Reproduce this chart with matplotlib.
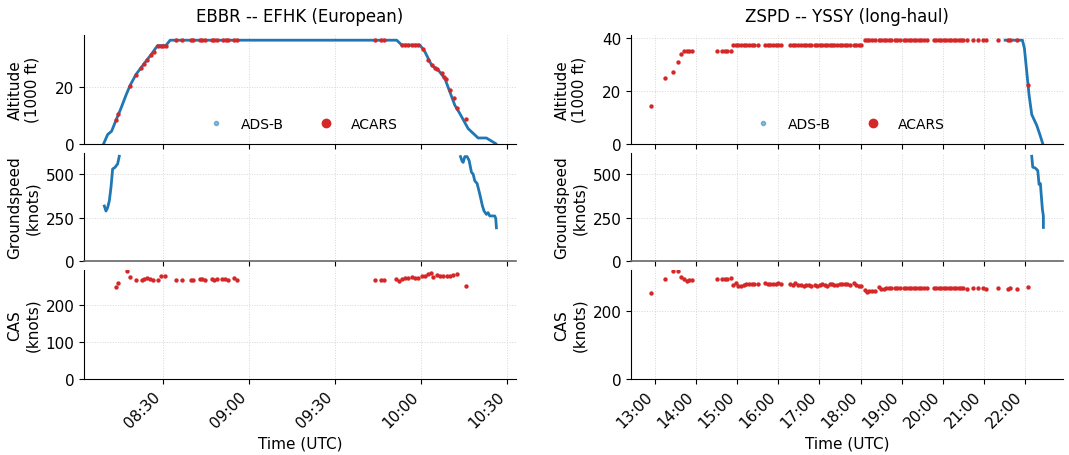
import numpy as np
import pandas as pd
import matplotlib
matplotlib.use("Agg")
import matplotlib.pyplot as plt
import matplotlib.dates as mdates
from matplotlib.lines import Line2D

# ---------------- Flight 1: EBBR -- EFHK (minutes after 08:00 UTC) ----------------
L_title = "EBBR -- EFHK (European)"
L_adsb_alt_t = [9.24, 10.63, 12.02, 13.53, 15.27, 17.01, 18.52, 20.49, 23.39, 25.71, 28.03, 30.93,
                32.44, 111.54, 113.28, 119.65, 121.39, 123.71, 126.03, 128.35, 130.09, 131.83,
                133.57, 136.47, 139.95, 142.85, 146.10]
L_adsb_alt = [0.0, 3.2, 4.4, 8.2, 12.4, 17.0, 20.6, 24.3, 28.2, 31.2, 34.5, 34.5,
              36.4, 36.4, 34.7, 34.7, 32.3, 27.6, 25.9, 22.9, 18.2, 13.5,
              10.6, 5.3, 2.0, 2.0, 0.0]
L_adsb_gs_t1 = [9.47, 10.05, 10.63, 11.21, 11.79, 12.37, 13.18, 14.11, 14.69]
L_adsb_gs1 = [317, 288, 308, 346, 423, 529, 538, 558, 602]
L_adsb_gs_t2 = [133.80, 134.38, 134.73, 135.31, 136.12, 136.82, 137.63, 138.21, 138.79, 139.60,
                140.53, 141.46, 142.04, 142.85, 143.43, 144.01, 144.94, 145.75, 146.10, 146.34]
L_adsb_gs2 = [600, 573, 567, 600, 600, 577, 510, 500, 461, 446,
              385, 317, 288, 269, 279, 260, 260, 260, 246, 192]
L_acars_alt_t = [13.53, 14.34, 18.52, 20.49, 22.23, 23.39, 24.32, 25.71, 26.64, 28.26, 29.19, 30.12, 30.93,
                 34.64, 36.50, 39.63, 40.55, 42.87, 43.69, 44.61, 46.93, 47.75, 48.67, 50.99, 51.80,
                 52.73, 54.70, 55.63,
                 104.00, 106.09, 107.13,
                 113.28, 114.44, 115.60, 116.76, 117.92, 119.07,
                 120.81, 122.55, 123.71, 124.87, 125.69, 127.19, 128.00, 128.70, 130.09, 131.48,
                 132.64, 135.66]
L_acars_alt = [8.2, 10.6, 20.3, 24.1, 26.7, 28.2, 29.4, 31.2, 32.1, 34.5, 34.5, 34.5, 34.5,
               36.4, 36.4, 36.4, 36.4, 36.4, 36.4, 36.4, 36.4, 36.4, 36.4, 36.4, 36.4,
               36.4, 36.4, 36.4,
               36.4, 36.4, 36.4,
               34.7, 34.7, 34.7, 34.7, 34.7, 34.7,
               33.3, 29.4, 27.6, 26.5, 26.1, 24.7, 23.5, 22.9, 18.8, 15.9,
               12.4, 8.6]
L_acars_cas_t = [13.53, 14.34, 17.36, 18.52, 20.49, 22.46, 23.39, 24.32, 25.36, 26.52, 28.38, 29.42,
                 30.58, 34.64, 36.50, 39.63, 40.55, 42.76, 43.69, 44.61, 46.93, 47.75, 48.67, 50.64,
                 51.57, 52.73, 54.70, 55.86,
                 104.00, 106.09, 107.13, 111.19, 112.35, 113.28, 114.44, 115.60, 116.76, 117.92,
                 119.07, 120.23, 121.39, 122.55, 123.36, 124.29, 125.45, 126.61, 127.77, 128.93,
                 130.09, 131.25, 132.41, 135.66]
L_acars_cas = [248, 259, 291, 275, 268, 268, 270, 272, 269, 268, 268, 278,
               277, 268, 268, 268, 268, 270, 270, 266, 270, 267, 271, 270,
               269, 268, 273, 266,
               268, 267, 266, 271, 265, 270, 272, 273, 274, 273,
               272, 278, 279, 283, 286, 275, 280, 279, 279, 279,
               279, 281, 284, 251]

# ---------------- Flight 2: ZSPD -- YSSY (hours UTC) ----------------
R_title = "ZSPD -- YSSY (long-haul)"
R_adsb_alt_t = [21.514, 21.935, 21.983, 22.040, 22.097, 22.161, 22.283, 22.364, 22.428]
R_adsb_alt = [39.1, 39.1, 36.0, 27.1, 18.3, 11.0, 6.9, 3.2, 0.0]
R_adsb_gs_t = [22.161, 22.186, 22.242, 22.307, 22.339, 22.372, 22.388, 22.420, 22.444, 22.444]
R_adsb_gs = [605, 542, 538, 523, 443, 447, 395, 300, 261, 195]
R_acars_t = [12.895, 13.235, 13.437, 13.558, 13.631, 13.704, 13.769, 13.826, 13.906,
             14.505, 14.635, 14.700, 14.764, 14.861,
             14.902, 14.959, 15.023, 15.088, 15.161, 15.226, 15.290, 15.355, 15.420, 15.509,
             15.687, 15.744, 15.808, 15.873, 15.938, 15.994, 16.059,
             16.294, 16.351, 16.415, 16.480, 16.545, 16.618, 16.682, 16.747, 16.804,
             16.901, 16.950, 17.006, 17.063, 17.128, 17.184, 17.249, 17.306, 17.362, 17.427,
             17.492, 17.548, 17.613, 17.678, 17.734,
             17.832, 17.888, 17.953, 18.010,
             18.099, 18.155, 18.212, 18.277, 18.341,
             18.439, 18.503, 18.560, 18.625, 18.681, 18.746,
             18.827, 18.892, 18.948,
             19.046, 19.110, 19.167, 19.232, 19.288, 19.353, 19.410, 19.475, 19.531, 19.612,
             19.774, 19.831, 19.895, 19.960, 20.017, 20.082, 20.138, 20.203, 20.260, 20.324,
             20.381, 20.438, 20.478,
             20.583, 20.721, 20.850, 20.988, 21.053,
             21.336, 21.579, 21.635, 21.797, 22.064]
R_acars_alt = [14.1, 25.0, 26.9, 30.9, 33.7, 35.1, 35.1, 35.1, 35.1,
               35.1, 35.1, 35.1, 35.1, 35.1,
               37.2, 37.2, 37.2, 37.2, 37.2, 37.2, 37.2, 37.2, 37.2, 37.2,
               37.2, 37.2, 37.2, 37.2, 37.2, 37.2, 37.2,
               37.2, 37.2, 37.2, 37.2, 37.2, 37.2, 37.2, 37.2, 37.2,
               37.2, 37.2, 37.2, 37.2, 37.2, 37.2, 37.2, 37.2, 37.2, 37.2,
               37.2, 37.2, 37.2, 37.2, 37.2,
               37.2, 37.2, 37.2, 37.2,
               39.1, 39.1, 39.1, 39.1, 39.1,
               39.1, 39.1, 39.1, 39.1, 39.1, 39.1,
               39.1, 39.1, 39.1,
               39.1, 39.1, 39.1, 39.1, 39.1, 39.1, 39.1, 39.1, 39.1, 39.1,
               39.1, 39.1, 39.1, 39.1, 39.1, 39.1, 39.1, 39.1, 39.1, 39.1,
               39.1, 39.1, 39.1,
               39.1, 39.1, 39.1, 39.1, 39.1,
               39.1, 39.1, 39.1, 39.1, 22.1]
R_acars_cas = [251, 293, 315, 315, 298, 293, 286, 290, 290,
               292, 292, 293, 294, 295,
               275, 280, 273, 273, 275, 278, 278, 278, 278, 278,
               280, 278, 278, 278, 278, 280, 278,
               278, 276, 281, 276, 276, 273, 276, 276, 273,
               276, 272, 276, 278, 276, 273, 278, 279, 276, 274,
               278, 278, 278, 278, 276,
               280, 276, 273, 273,
               261, 254, 259, 259, 259,
               268, 263, 263, 266, 266, 266,
               266, 266, 266,
               266, 266, 266, 266, 266, 266, 266, 266, 266, 266,
               266, 266, 266, 266, 266, 266, 266, 266, 266, 266,
               266, 266, 266,
               265, 266, 266, 266, 263,
               266, 265, 266, 265, 270]

ADSB_COLOR = "#1f77b4"
ACARS_COLOR = "#d62728"


def to_dt_minutes(base, mins):
    return pd.Timestamp(base) + pd.to_timedelta(np.asarray(mins, dtype=float), unit="m")


def to_dt_hours(base, hrs):
    return pd.Timestamp(base) + pd.to_timedelta(np.asarray(hrs, dtype=float), unit="h")


plt.rcParams["font.family"] = ["DejaVu Sans"]
plt.rcParams["font.size"] = 11

fig = plt.figure(figsize=(10.69, 4.56), dpi=100)
gs = fig.add_gridspec(3, 2, left=0.0786, right=0.9944, top=0.921, bottom=0.1667,
                      hspace=0.083, wspace=0.266)

base = "2024-01-01 08:00"
baseR = "2024-01-01 00:00"

cols = [
    dict(title=L_title,
         adsb_alt=(to_dt_minutes(base, L_adsb_alt_t), L_adsb_alt),
         gs_segments=[(to_dt_minutes(base, L_adsb_gs_t1), L_adsb_gs1),
                      (to_dt_minutes(base, L_adsb_gs_t2), L_adsb_gs2)],
         acars_alt=(to_dt_minutes(base, L_acars_alt_t), L_acars_alt),
         acars_cas=(to_dt_minutes(base, L_acars_cas_t), L_acars_cas),
         locator=mdates.MinuteLocator(byminute=[0, 30]),
         alt_ticks=[0, 20], cas_ticks=[0, 100, 200]),
    dict(title=R_title,
         adsb_alt=(to_dt_hours(baseR, R_adsb_alt_t), R_adsb_alt),
         gs_segments=[(to_dt_hours(baseR, R_adsb_gs_t), R_adsb_gs)],
         acars_alt=(to_dt_hours(baseR, R_acars_t), R_acars_alt),
         acars_cas=(to_dt_hours(baseR, R_acars_t), R_acars_cas),
         locator=mdates.HourLocator(),
         alt_ticks=[0, 20, 40], cas_ticks=[0, 200]),
]

for c, spec in enumerate(cols):
    ax1 = fig.add_subplot(gs[0, c])
    ax2 = fig.add_subplot(gs[1, c], sharex=ax1)
    ax3 = fig.add_subplot(gs[2, c], sharex=ax1)

    # Altitude
    t, a = spec["adsb_alt"]
    ax1.plot(t, a, color=ADSB_COLOR, lw=2, zorder=2)
    t, a = spec["acars_alt"]
    ax1.scatter(t, a, s=10, color=ACARS_COLOR, zorder=3, linewidths=0)
    ax1.set_ylabel("Altitude\n(1000 ft)")
    ax1.set_title(spec["title"], pad=10, fontsize=12)

    # Groundspeed
    for t, g in spec["gs_segments"]:
        ax2.plot(t, g, color=ADSB_COLOR, lw=2)
    ax2.set_ylabel("Groundspeed\n(knots)")

    # CAS
    t, v = spec["acars_cas"]
    ax3.scatter(t, v, s=10, color=ACARS_COLOR, zorder=3, linewidths=0)
    ax3.set_ylabel("CAS\n(knots)")
    ax3.set_xlabel("Time (UTC)")

    for ax in (ax1, ax2, ax3):
        ax.set_ylim(bottom=0)
        ax.spines["top"].set_visible(False)
        ax.spines["right"].set_visible(False)
        ax.grid(True, color="#cccccc", linestyle=":", linewidth=0.7, alpha=0.8)
        ax.set_axisbelow(True)
    ax2.spines["bottom"].set_color("#666666")
    ax2.spines["bottom"].set_linewidth(1.2)
    ax1.set_yticks(spec["alt_ticks"])
    ax2.set_yticks([0, 250, 500])
    ax3.set_yticks(spec["cas_ticks"])

    ax3.xaxis.set_major_locator(spec["locator"])
    ax3.xaxis.set_major_formatter(mdates.DateFormatter("%H:%M"))
    for lab in ax3.get_xticklabels():
        lab.set_rotation(45)
        lab.set_ha("right")
    ax1.tick_params(labelbottom=False)
    ax2.tick_params(labelbottom=False)

    handles = [Line2D([], [], marker="o", linestyle="none", color=ADSB_COLOR, alpha=0.5, markersize=3),
               Line2D([], [], marker="o", linestyle="none", color=ACARS_COLOR, markersize=6)]
    ax1.legend(handles, ["ADS-B", "ACARS"], loc="lower center", ncol=2, frameon=False,
               fontsize=10, columnspacing=2.0)
    fig.align_ylabels([ax1, ax2, ax3])

fig.savefig("out.png", dpi=100)
